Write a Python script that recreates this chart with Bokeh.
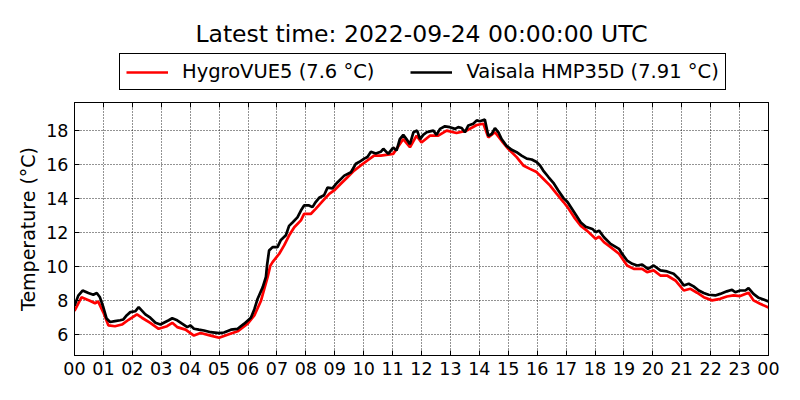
from bokeh.plotting import figure
from bokeh.layouts import column
from bokeh.models import Range1d, FixedTicker, LinearAxis, Legend, LegendItem
from bokeh.embed import file_html
from bokeh.resources import INLINE

# HygroVUE5 (red) — hours since 2022-09-23 00:00 UTC, temperature °C
hygro_h = [0.0, 0.24, 0.53, 0.71, 0.82, 1.0, 1.17, 1.40, 1.64, 1.87, 2.16, 2.33, 2.62, 2.91,
           3.20, 3.38, 3.55, 3.84, 4.13, 4.36, 4.71, 5.0, 5.29, 5.64, 5.99, 6.22, 6.45, 6.68,
           6.77, 6.85, 7.08, 7.25, 7.42, 7.60, 7.83, 7.94, 8.17, 8.34, 8.58, 8.81, 8.98, 9.21,
           9.44, 9.67, 9.90, 10.13, 10.36, 10.59, 11.02, 11.37, 11.60, 11.83, 12.0, 12.29,
           12.58, 12.87, 13.21, 13.56, 13.91, 14.14, 14.31, 14.54, 14.77, 15.0, 15.29, 15.52,
           15.75, 15.98, 16.21, 16.44, 16.67, 16.91, 17.05, 17.28, 17.51, 17.74, 18.02, 18.14,
           18.31, 18.54, 18.83, 19.11, 19.34, 19.63, 19.80, 20.03, 20.26, 20.49, 20.78, 21.07,
           21.30, 21.53, 21.76, 22.05, 22.33, 22.56, 22.79, 23.02, 23.31, 23.48, 23.71, 24.0]
hygro_t = [7.4, 8.2, 8.0, 7.85, 7.95, 7.3, 6.55, 6.5, 6.6, 6.88, 7.2, 7.0, 6.7, 6.35,
           6.5, 6.7, 6.45, 6.3, 5.95, 6.1, 5.95, 5.82, 6.0, 6.2, 6.65, 7.13, 8.0, 9.4,
           10.05, 10.27, 10.76, 11.25, 11.83, 12.32, 12.72, 13.1, 13.1, 13.4, 13.85, 14.28, 14.48, 14.87,
           15.26, 15.65, 15.95, 16.24, 16.53, 16.53, 16.63, 17.5, 17.02, 17.7, 17.3, 17.7,
           17.7, 18.0, 17.86, 18.0, 18.33, 18.4, 17.6, 17.9, 17.4, 16.93, 16.44, 15.95,
           15.75, 15.56, 15.17, 14.78, 14.29, 13.8, 13.5, 12.9, 12.4, 12.09, 11.64, 11.77,
           11.44, 11.15, 10.76, 10.07, 9.87, 9.87, 9.68, 9.78, 9.48, 9.48, 9.19, 8.6,
           8.7, 8.47, 8.21, 8.02, 8.11, 8.25, 8.31, 8.27, 8.47, 8.02, 7.82, 7.6]

# Vaisala HMP35D (black)
vais_h = [0.0, 0.13, 0.28, 0.48, 0.65, 0.77, 0.88, 1.0, 1.11, 1.23, 1.40, 1.58, 1.69, 1.81,
          1.93, 2.10, 2.22, 2.33, 2.45, 2.62, 2.80, 2.97, 3.14, 3.26, 3.38, 3.55, 3.72, 3.90,
          4.01, 4.13, 4.30, 4.48, 4.71, 5.0, 5.17, 5.41, 5.64, 5.87, 6.10, 6.22, 6.33, 6.51,
          6.62, 6.66, 6.73, 6.85, 7.02, 7.13, 7.31, 7.42, 7.54, 7.71, 7.83, 7.94, 8.11, 8.23,
          8.34, 8.46, 8.63, 8.75, 8.92, 9.09, 9.33, 9.56, 9.73, 9.84, 10.02, 10.13, 10.25,
          10.42, 10.59, 10.68, 10.85, 11.02, 11.14, 11.25, 11.37, 11.48, 11.60, 11.72, 11.85,
          11.95, 12.06, 12.18, 12.29, 12.41, 12.52, 12.64, 12.81, 12.98, 13.16, 13.27, 13.39,
          13.50, 13.62, 13.79, 13.91, 14.02, 14.19, 14.31, 14.43, 14.54, 14.66, 14.77, 14.94,
          15.12, 15.29, 15.46, 15.64, 15.81, 15.98, 16.10, 16.21, 16.39, 16.56, 16.73, 16.91,
          17.05, 17.28, 17.51, 17.68, 17.91, 18.02, 18.14, 18.31, 18.54, 18.83, 18.94, 19.11,
          19.29, 19.46, 19.63, 19.83, 20.03, 20.26, 20.49, 20.72, 20.90, 21.07, 21.24, 21.41,
          21.59, 21.76, 21.93, 22.16, 22.33, 22.56, 22.74, 22.85, 23.02, 23.20, 23.31, 23.48,
          23.66, 23.83, 24.0]
vais_t = [7.7, 8.3, 8.6, 8.45, 8.35, 8.45, 8.2, 7.6, 6.95, 6.75, 6.8, 6.85, 6.9, 7.15,
          7.33, 7.38, 7.62, 7.42, 7.2, 7.0, 6.7, 6.6, 6.75, 6.85, 6.97, 6.85, 6.65, 6.45,
          6.55, 6.35, 6.3, 6.25, 6.15, 6.1, 6.13, 6.3, 6.35, 6.65, 7.0, 7.5, 8.1, 8.8,
          9.4, 10.1, 10.95, 11.15, 11.15, 11.55, 11.85, 12.4, 12.6, 12.9, 13.3, 13.6, 13.6, 13.5,
          13.8, 14.05, 14.2, 14.65, 14.6, 14.95, 15.35, 15.55, 16.05, 16.15, 16.35, 16.45, 16.75,
          16.65, 16.75, 16.93, 16.63, 17.0, 16.83, 17.5, 17.75, 17.5, 17.2, 17.9, 18.0,
          17.5, 17.75, 17.9, 17.95, 18.0, 17.75, 18.1, 18.25, 18.2, 18.1, 18.2, 18.15,
          17.9, 18.3, 18.4, 18.6, 18.55, 18.65, 17.7, 17.8, 18.15, 17.9, 17.5, 17.1,
          16.87, 16.73, 16.53, 16.35, 16.3, 16.15, 15.95, 15.65, 15.27, 14.93, 14.48, 14.03,
          13.8, 13.2, 12.6, 12.35, 12.22, 12.03, 12.12, 11.73, 11.34, 11.05, 10.75, 10.36,
          10.17, 10.07, 10.13, 9.87, 10.07, 9.78, 9.72, 9.58, 9.29, 8.9, 9.0, 8.84,
          8.6, 8.45, 8.35, 8.31, 8.4, 8.55, 8.64, 8.5, 8.6, 8.6, 8.74, 8.4,
          8.17, 8.07, 7.95]

x_ticks = list(range(25))
x_labels = ["%02d" % (h % 24) for h in x_ticks]
y_ticks = [6, 8, 10, 12, 14, 16, 18]

title_text = "Latest time: 2022-09-24 00:00:00 UTC"
label_hygro = "HygroVUE5 (7.6 °C)"
label_vais = "Vaisala HMP35D (7.91 °C)"
y_label = "Temperature (°C)"

FONT = "DejaVu Sans"
RED = "red"
BLACK = "black"
LW = 2.7

# ---- header figure: title + legend (its lines lie outside its own view, only the key shows) ----
head = figure(width=784, height=100, output_backend="svg", toolbar_location=None,
              title=title_text, x_axis_type=None, y_axis_type=None,
              x_range=Range1d(0, 24), y_range=Range1d(0, 1),
              min_border_left=74, min_border_right=16, min_border_top=52, min_border_bottom=0)
head.outline_line_color = None
head.background_fill_color = "white"
head.border_fill_color = "white"
head.xgrid.visible = False
head.ygrid.visible = False
head.title.align = "center"
head.title.text_font = FONT
head.title.text_font_size = "23.5px"
head.title.text_font_style = "normal"
head.title.text_color = "black"
head.title.standoff = 10

k1 = head.line(hygro_h, hygro_t, line_color=RED, line_width=LW)
k2 = head.line(vais_h, vais_t, line_color=BLACK, line_width=LW)
legend = Legend(items=[LegendItem(label=label_hygro, renderers=[k1]),
                       LegendItem(label=label_vais, renderers=[k2])],
                orientation="horizontal", location=(45, 10),
                border_line_color="black", border_line_width=1, border_line_alpha=1,
                background_fill_color="white", background_fill_alpha=1,
                label_text_font=FONT, label_text_font_size="19.5px", label_text_color="black",
                glyph_width=42, glyph_height=20, label_height=20, label_standoff=14,
                spacing=36, padding=6, margin=0)
head.add_layout(legend, "center")

# ---- main plot ----
p = figure(width=784, height=284, output_backend="svg", toolbar_location=None,
           x_range=Range1d(0, 24), y_range=Range1d(4.78, 19.65),
           min_border_left=74, min_border_right=16, min_border_top=2, min_border_bottom=29)
p.background_fill_color = "white"
p.border_fill_color = "white"
p.outline_line_color = "black"
p.outline_line_width = 1

p.line(hygro_h, hygro_t, line_color=RED, line_width=LW)
p.line(vais_h, vais_t, line_color=BLACK, line_width=LW)

xt = FixedTicker(ticks=x_ticks)
yt = FixedTicker(ticks=y_ticks)

for ax in p.xaxis:
    ax.ticker = xt
    ax.major_label_overrides = {t: l for t, l in zip(x_ticks, x_labels)}
for ax in p.yaxis:
    ax.ticker = yt
    ax.axis_label = y_label

for ax in list(p.xaxis) + list(p.yaxis):
    ax.axis_line_color = "black"
    ax.major_tick_in = 5
    ax.major_tick_out = 0
    ax.minor_tick_line_color = None
    ax.major_label_text_font = FONT
    ax.major_label_text_font_size = "17.5px"
    ax.major_label_text_color = "black"
    ax.major_label_standoff = 6
    ax.axis_label_text_font = FONT
    ax.axis_label_text_font_size = "19px"
    ax.axis_label_text_font_style = "normal"
    ax.axis_label_text_color = "black"
    ax.axis_label_standoff = 4

p.xgrid.ticker = xt
p.ygrid.ticker = yt
for g in (p.xgrid, p.ygrid):
    g.grid_line_color = "black"
    g.grid_line_dash = "1 2"
    g.grid_line_width = 1
    g.grid_line_alpha = 0.85

right = LinearAxis(ticker=yt, major_label_text_font_size="0px", major_label_standoff=0,
                   major_label_text_color=None,
                   major_tick_in=5, major_tick_out=0, minor_tick_line_color=None,
                   axis_line_color="black")
p.add_layout(right, "right")
top = LinearAxis(ticker=xt, major_label_text_font_size="0px", major_label_standoff=0,
                 major_label_text_color=None,
                 major_tick_in=5, major_tick_out=0, minor_tick_line_color=None,
                 axis_line_color="black")
p.add_layout(top, "above")

layout = column(head, p, spacing=0)
open("out.html", "w").write(file_html(layout, INLINE))
